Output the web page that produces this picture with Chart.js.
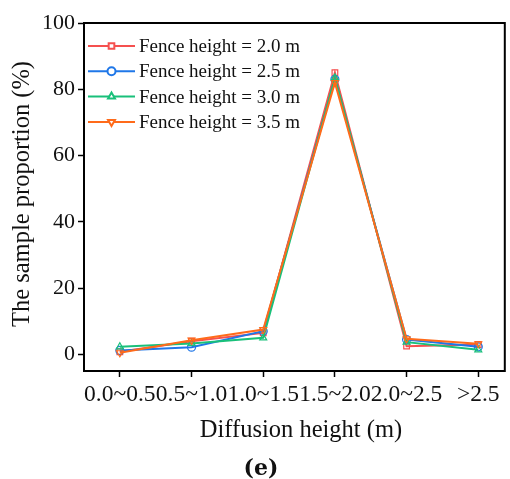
<!DOCTYPE html>
<html>
<head>
<meta charset="utf-8">
<script src="https://cdn.jsdelivr.net/npm/chart.js@4"></script>
<style>
  html, body { margin: 0; padding: 0; background: #fff; }
  #wrap { width: 510px; height: 479px; position: relative; }
</style>
</head>
<body>
<div id="wrap"><canvas id="myChart"></canvas></div>
<script>
// categories (diffusion height)
const categories = ['0.0~0.5', '0.5~1.0', '1.0~1.5', '1.5~2.0', '2.0~2.5', '>2.5'];
// sample proportion (%) per fence height
const fence20 = [0.8, 4.0, 6.5, 85.0, 2.5, 3.0];
const fence25 = [1.2, 2.2, 7.0, 83.0, 4.5, 2.3];
const fence30 = [2.3, 3.3, 5.0, 83.5, 3.7, 1.4];
const fence35 = [0.5, 4.3, 7.5, 82.0, 4.7, 3.2];
const yTicks = [0, 20, 40, 60, 80, 100];

const serif = "'Liberation Serif', 'Times New Roman', serif";

function toPoints(arr) {
  return arr.map((v, i) => ({ x: i, y: v }));
}

function makeSet(label, values, color, style, rot, order) {
  return {
    label: label,
    data: toPoints(values),
    borderColor: color,
    backgroundColor: 'rgba(0,0,0,0)',
    borderWidth: 2,
    pointStyle: style,
    pointRotation: rot,
    pointRadius: 4,
    pointBorderWidth: 1.2,
    pointBackgroundColor: 'rgba(0,0,0,0)',
    order: order,
  };
}

// frame, legend and titles
const extras = {
  id: 'extras',
  afterDatasetsDraw(chart) {
    const { ctx, chartArea: a } = chart;
    ctx.save();
    ctx.strokeStyle = '#000';
    ctx.lineWidth = 2;
    ctx.strokeRect(a.left, a.top, a.right - a.left, a.bottom - a.top);

    // legend
    const sets = chart.data.datasets;
    sets.forEach((ds, i) => {
      const y = 46 + i * 25.3;
      ctx.strokeStyle = ds.borderColor;
      ctx.lineWidth = 2;
      ctx.beginPath();
      ctx.moveTo(88, y);
      ctx.lineTo(135, y);
      ctx.stroke();
      ctx.fillStyle = '#fff';
      Chart.helpers.drawPoint(ctx, {
        pointStyle: ds.pointStyle,
        rotation: ds.pointRotation,
        radius: 4,
        borderWidth: 1.2,
      }, 111.5, y);
      ctx.fillStyle = '#111';
      ctx.font = '19px ' + serif;
      ctx.textAlign = 'left';
      ctx.textBaseline = 'middle';
      ctx.fillText(ds.label, 139, y + 1);
    });

    // axis titles
    ctx.fillStyle = '#111';
    ctx.font = '24.5px ' + serif;
    ctx.textAlign = 'center';
    ctx.textBaseline = 'middle';
    ctx.fillText('Diffusion height (m)', 301, 431);
    ctx.save();
    ctx.translate(23, 194);
    ctx.rotate(-Math.PI / 2);
    ctx.fillText('The sample proportion (%)', 0, 0);
    ctx.restore();

    ctx.font = "bold 22px 'DejaVu Serif', serif";
    ctx.fillText('(e)', 261, 469);
    ctx.restore();
  }
};

const data = {
  datasets: [
    makeSet('Fence height = 2.0 m', fence20, '#f5504f', 'rect', 0, 4),
    makeSet('Fence height = 2.5 m', fence25, '#1f77e8', 'circle', 0, 3),
    makeSet('Fence height = 3.0 m', fence30, '#19c07a', 'triangle', 0, 2),
    makeSet('Fence height = 3.5 m', fence35, '#ff6b1a', 'triangle', 180, 1),
  ],
};

const options = {
  responsive: false,
  animation: false,
  layout: { padding: { top: 23, right: 3, left: 0, bottom: 0 } },
  plugins: {
    legend: { display: false },
    tooltip: { enabled: false },
  },
  scales: {
    x: {
      type: 'linear',
      min: -0.5,
      max: 5.37,
      afterBuildTicks: (scale) => {
        scale.ticks = categories.map((c, i) => ({ value: i }));
      },
      afterFit: (scale) => { scale.height = 108; },
      grid: {
        display: true,
        drawOnChartArea: false,
        drawTicks: true,
        tickLength: 6,
        tickWidth: 1.5,
        tickColor: '#000',
      },
      border: { display: true, color: '#000', width: 2 },
      ticks: {
        autoSkip: false,
        maxRotation: 0,
        padding: 4,
        color: '#111',
        font: { family: serif, size: 23.5 },
        callback: (v) => categories[v],
      },
    },
    y: {
      type: 'linear',
      min: -5,
      max: 100,
      afterBuildTicks: (scale) => {
        scale.ticks = yTicks.map(v => ({ value: v }));
      },
      afterFit: (scale) => { scale.width = 84; },
      grid: {
        display: true,
        drawOnChartArea: false,
        drawTicks: true,
        tickLength: 6,
        tickWidth: 1.5,
        tickColor: '#000',
      },
      border: { display: true, color: '#000', width: 2 },
      ticks: {
        padding: 3,
        color: '#111',
        font: { family: serif, size: 22 },
      },
    },
  },
};

const canvas = document.getElementById('myChart');
canvas.width = 510;
canvas.height = 479;
const chart = new Chart(canvas.getContext('2d'), {
  type: 'line',
  data: data,
  options: options,
  plugins: [extras],
});
</script>
</body>
</html>
